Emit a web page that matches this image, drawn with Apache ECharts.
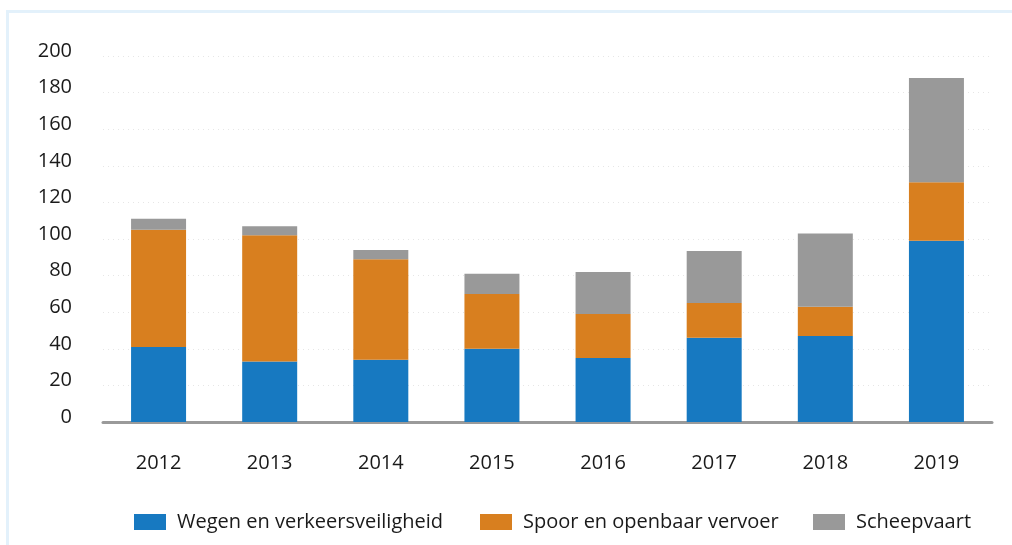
<!DOCTYPE html>
<html>
<head>
<meta charset="utf-8">
<script src="https://cdn.jsdelivr.net/npm/echarts@6/dist/echarts.min.js"></script>
<style>
  html, body { margin: 0; padding: 0; background: #fff; overflow: hidden; }
  #frame {
    position: absolute; left: 6px; top: 10px; width: 1100px; height: 600px;
    border-left: 3px solid #e3f1fb; border-top: 3px solid #e3f1fb;
  }
  #chart { position: absolute; left: 0; top: 0; width: 1012px; height: 545px; }
</style>
</head>
<body>
<div id="frame"></div>
<div id="chart"></div>
<script>
const years = ['2012', '2013', '2014', '2015', '2016', '2017', '2018', '2019'];
const wegen = [41, 33, 34, 40, 35, 46, 47, 99];
const spoor = [64, 69, 55, 30, 24, 19, 16, 32];
const scheepvaart = [6, 5, 5, 11, 23, 28.5, 40, 57];
const yTicks = { min: 0, max: 200, interval: 20 };

const names = ['Wegen en verkeersveiligheid', 'Spoor en openbaar vervoer', 'Scheepvaart'];
const colors = ['#1779c1', '#d87f1f', '#999999'];
const font = '"Open Sans", "Noto Sans", sans-serif';
const chart = echarts.init(document.getElementById('chart'));

const mkSeries = (i, data) => ({
  name: names[i],
  type: 'bar',
  stack: 'total',
  data,
  barWidth: 55,
  itemStyle: { color: colors[i] },
  emphasis: { disabled: true }
});

// one legend per item so each sits where the reference has it
const legendLefts = [129, 475, 808];
const legends = names.map((n, i) => ({
  data: [n],
  bottom: 8,
  left: legendLefts[i],
  itemWidth: 32,
  itemHeight: 16,
  icon: 'rect',
  textStyle: { fontSize: 20, color: '#1a1a1a', fontFamily: font, padding: [0, 0, 0, 6] }
}));

chart.setOption({
  animation: false,
  textStyle: { fontFamily: font },
  grid: { left: 103, right: 20, top: 56, bottom: 123, containLabel: false },
  legend: legends,
  xAxis: {
    type: 'category',
    data: years,
    axisLine: { lineStyle: { color: '#9a9a9a', width: 3 } },
    axisTick: { show: false },
    axisLabel: { color: '#1a1a1a', fontSize: 20, margin: 31 }
  },
  yAxis: {
    type: 'value',
    min: yTicks.min,
    max: yTicks.max,
    interval: yTicks.interval,
    axisLine: { show: false },
    axisTick: { show: false },
    // labels sit a little above their gridlines in the reference
    axisLabel: { color: '#1a1a1a', fontSize: 20, margin: 31, verticalAlign: 'bottom', lineHeight: 10 },
    splitLine: { lineStyle: { color: '#e6e6e6', type: [1, 4], width: 1 } }
  },
  series: [
    mkSeries(0, wegen),
    mkSeries(1, spoor),
    mkSeries(2, scheepvaart)
  ]
});
</script>
</body>
</html>
